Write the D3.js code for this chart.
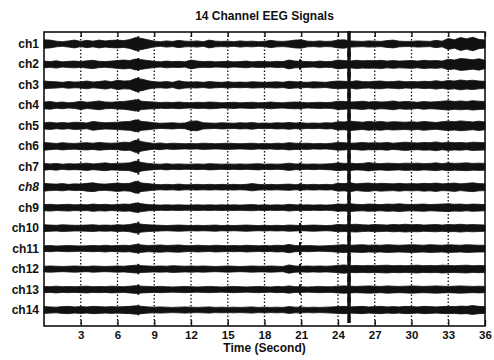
<!DOCTYPE html>
<html>
<head>
<meta charset="utf-8">
<script src="https://cdnjs.cloudflare.com/ajax/libs/d3/7.8.5/d3.min.js"></script>
<style>
  body { margin: 0; background: #fff; }
  text { font-family: "Liberation Sans", Arial, sans-serif; fill: #111; font-weight: bold; }
</style>
</head>
<body>
<div id="chart"></div>
<script>
// channel names and x tick labels
const channels = ["ch1","ch2","ch3","ch4","ch5","ch6","ch7","ch8","ch9","ch10","ch11","ch12","ch13","ch14"];
const xTicks = [3,6,9,12,15,18,21,24,27,30,33,36];

// signal envelope (half amplitude) every 0.5 s, 0..36 s
const step = 0.5;
const ch1  = [3.2,3.0,2.2,1.8,2.4,3.0, 2.0,2.8,2.2,3.0,2.4,2.8, 3.0,2.6,3.4,5.0,4.2,3.2, 2.2,1.8,2.4,2.0,2.8,2.2, 2.0,2.4,1.8,3.0,2.2,2.0, 2.2,1.8,2.4,2.0,2.2,1.8, 2.0,2.8,2.2,2.0,2.4,3.0, 3.2,2.2,2.0,2.4,2.0,2.2, 3.0,3.2,2.4,2.2,2.0,2.4, 2.2,2.0,2.6,3.0,2.2,2.0, 2.0,2.4,2.2,2.0,2.8,2.2, 4.2,3.2,5.0,4.0,5.2,3.6, 3.0];
const ch2  = [2.6,2.2,2.8,2.0,2.4,2.6, 2.2,2.8,3.2,2.4,2.2,2.6, 3.0,3.4,3.0,4.2,3.6,3.0, 2.4,2.0,2.6,2.2,2.4,2.0, 3.4,2.6,2.2,2.4,2.0,2.2, 2.4,2.0,2.2,2.6,2.0,2.4, 2.2,2.0,2.4,2.2,3.4,2.6, 2.4,2.2,2.0,2.6,2.2,2.4, 3.4,3.0,2.6,3.2,2.8,3.0, 2.8,3.2,2.6,3.0,2.6,2.8, 3.0,2.6,3.2,2.8,3.0,2.6, 4.0,3.4,4.6,4.2,3.6,4.4, 3.2];
const ch3  = [3.0,2.6,2.4,2.0,2.6,2.2, 2.4,3.0,2.2,2.6,3.2,2.4, 3.6,3.0,3.2,5.0,4.4,3.2, 2.4,2.2,2.6,2.0,3.2,2.4, 2.2,2.4,2.0,2.6,2.2,2.0, 2.4,2.0,2.2,2.0,2.4,2.2, 2.0,2.2,2.4,2.0,2.8,2.4, 2.2,2.0,2.4,2.2,2.0,2.6, 3.0,2.8,2.4,3.2,2.6,2.4, 2.8,3.0,2.4,2.6,3.0,2.4, 2.6,2.4,2.8,2.6,3.2,2.6, 3.4,3.0,3.8,3.2,3.6,3.0, 2.8];
const ch4  = [2.6,3.0,2.2,2.6,2.0,2.4, 3.2,2.4,2.8,3.4,2.6,2.4, 2.8,3.0,3.6,4.4,3.2,2.8, 2.6,2.2,2.4,2.2,2.6,2.2, 2.0,2.4,2.2,2.6,2.4,2.0, 2.2,2.4,2.0,2.2,2.4,2.0, 2.2,2.6,2.2,2.0,2.4,2.6, 2.4,2.0,2.2,2.4,2.2,2.4, 3.2,3.0,2.6,2.8,3.2,2.6, 3.0,2.6,2.8,3.4,2.6,3.0, 2.8,2.4,3.0,2.6,2.8,3.2, 3.6,3.0,3.4,3.0,3.6,3.2, 3.0];
const ch5  = [2.4,2.8,2.2,2.6,2.2,2.8, 2.6,2.2,3.4,2.8,2.4,2.6, 2.8,3.2,3.4,4.6,3.4,3.0, 2.4,2.0,2.2,2.4,2.0,2.2, 3.6,3.8,2.4,2.2,2.0,2.4, 2.2,2.0,2.4,2.2,2.6,2.0, 2.2,2.0,2.4,2.2,2.6,2.2, 2.4,2.0,2.2,2.0,2.4,2.2, 3.2,3.0,3.6,3.2,2.8,3.4, 3.0,3.4,2.8,3.2,3.0,2.8, 3.2,2.8,3.4,3.0,2.6,3.2, 3.6,3.2,3.8,3.4,3.0,3.6, 3.0];
const ch6  = [3.0,2.6,2.2,2.8,2.4,2.2, 2.6,2.8,2.4,3.0,2.6,2.4, 2.6,3.2,3.0,4.8,3.6,2.8, 2.2,2.6,2.0,2.4,2.2,2.0, 2.2,2.0,2.4,2.2,2.0,2.2, 2.4,2.2,2.0,2.2,2.4,2.0, 2.2,2.0,2.4,2.2,2.8,2.4, 2.2,2.4,2.0,2.2,2.0,2.4, 3.0,2.8,2.4,2.6,3.0,2.6, 2.8,2.6,3.0,2.4,2.8,3.2, 2.8,2.6,3.0,2.8,3.4,2.6, 3.2,2.8,3.0,2.6,3.2,3.0, 2.8];
const ch7  = [2.6,2.2,2.6,2.0,2.4,2.2, 2.4,2.8,2.2,2.6,3.0,2.4, 2.6,2.8,3.0,4.4,3.2,2.6, 2.2,2.0,2.4,2.0,2.2,2.0, 2.0,2.2,2.0,2.4,2.2,2.0, 2.2,2.0,2.2,2.0,2.2,2.4, 2.0,2.2,2.0,2.2,2.8,2.2, 2.2,2.0,2.2,2.0,2.2,2.4, 3.0,2.6,2.8,2.4,2.6,3.2, 2.6,2.4,2.8,2.6,2.4,2.8, 2.6,2.8,2.4,2.6,3.0,2.4, 3.0,2.6,2.8,3.0,2.6,2.8, 2.6];
const ch8  = [3.0,2.6,2.4,2.8,2.2,2.6, 2.4,3.0,3.4,2.6,2.4,2.8, 3.2,2.8,3.0,4.6,3.2,2.8, 2.2,2.0,2.2,2.0,2.4,2.0, 2.0,2.2,2.0,2.2,2.0,2.2, 2.0,2.2,2.0,2.2,2.8,2.2, 2.0,2.2,2.0,2.2,2.4,2.0, 2.2,2.0,2.2,2.0,2.2,2.0, 3.0,2.8,3.4,2.6,3.0,3.2, 2.6,3.0,2.8,2.6,3.0,2.6, 2.8,2.6,3.0,2.8,3.2,2.6, 2.8,3.2,2.6,3.0,3.4,2.8, 2.6];
const ch9  = [2.4,2.6,2.2,2.4,2.6,2.2, 2.4,2.2,2.8,2.4,2.6,2.2, 2.4,2.8,2.6,3.6,3.0,2.4, 2.2,2.0,2.2,2.0,2.2,2.0, 2.0,2.2,2.0,2.2,2.0,2.2, 2.0,2.2,2.0,2.2,2.4,2.0, 2.2,2.0,2.2,2.0,2.6,2.2, 2.0,2.2,2.0,2.2,2.0,2.2, 2.8,2.6,3.0,2.6,2.4,2.8, 2.6,2.4,2.8,2.6,3.0,2.6, 2.4,2.6,2.8,2.4,2.6,2.8, 3.0,2.6,2.8,2.4,2.8,2.6, 2.4];
const ch10 = [2.6,2.4,2.2,2.6,2.4,2.2, 2.2,2.4,2.6,2.2,2.4,2.2, 2.6,2.4,2.8,3.8,3.0,2.6, 2.4,2.2,2.0,2.2,2.4,2.2, 2.0,2.2,2.0,2.2,2.4,2.0, 2.2,2.0,2.2,2.4,2.2,2.0, 2.2,2.0,2.2,2.0,2.4,2.2, 2.0,2.2,2.4,2.2,2.0,2.2, 2.8,2.6,2.8,3.0,2.6,2.4, 2.8,2.6,2.4,2.8,2.6,3.0, 2.6,2.8,2.4,2.6,2.8,2.4, 2.8,2.6,3.0,2.6,2.8,2.6, 2.4];
const ch11 = [2.2,2.4,2.0,2.2,2.4,2.2, 2.0,2.2,2.4,2.2,2.6,2.2, 2.4,2.6,2.4,3.2,2.8,2.4, 2.6,2.8,2.4,2.6,2.8,2.4, 2.2,2.6,2.4,2.2,2.6,2.4, 2.2,2.4,2.2,2.6,2.4,2.2, 2.4,2.2,2.6,2.4,3.2,2.4, 2.2,2.4,2.2,2.0,2.2,2.4, 2.8,3.0,2.6,2.8,3.0,2.6, 2.8,2.6,3.0,2.8,2.6,2.8, 3.0,2.8,2.6,3.0,2.8,2.6, 3.0,2.8,2.6,3.0,2.8,2.6, 2.6];
const ch12 = [2.2,2.4,2.2,2.0,2.2,2.4, 2.2,2.0,2.4,2.2,2.0,2.2, 2.4,2.2,2.6,3.0,2.6,2.4, 2.2,2.4,2.2,2.6,2.4,2.2, 2.4,2.2,2.4,2.2,2.0,2.2, 2.4,2.2,2.0,2.2,2.4,2.2, 2.2,2.4,2.2,2.0,3.2,2.4, 2.2,2.4,2.2,2.4,2.2,2.4, 2.8,3.2,2.6,2.8,2.6,2.8, 2.6,2.8,3.0,2.6,2.8,2.6, 2.8,3.0,2.6,2.8,2.6,3.0, 2.8,2.6,2.8,3.0,2.6,2.8, 2.6];
const ch13 = [2.4,2.2,2.6,2.2,2.4,2.2, 2.4,2.6,2.2,2.4,2.2,2.6, 2.4,2.2,2.6,3.0,2.6,2.4, 2.2,2.4,2.2,2.0,2.2,2.4, 2.2,2.0,2.2,2.4,2.2,2.0, 2.2,2.4,2.2,2.0,2.2,2.4, 2.2,2.0,2.4,2.2,2.8,2.2, 2.2,2.0,2.2,2.4,2.2,2.2, 2.6,2.8,2.6,2.4,2.6,2.8, 2.6,2.4,2.8,2.6,2.4,2.6, 2.8,2.6,2.4,2.6,2.8,2.6, 2.4,2.6,2.8,2.6,2.4,2.6, 2.4];
const ch14 = [2.6,2.4,2.2,2.6,2.8,2.4, 2.6,2.4,2.8,2.6,2.4,2.6, 2.4,2.6,2.8,3.2,2.8,2.4, 2.2,2.4,2.2,2.0,2.2,2.4, 2.2,2.0,2.2,2.4,2.0,2.2, 2.0,2.2,2.0,2.2,2.4,2.0, 2.2,2.0,2.2,2.0,2.6,2.2, 2.2,2.0,2.2,2.0,2.2,2.4, 2.6,2.8,2.4,2.6,2.8,2.4, 2.6,2.8,2.4,2.6,2.4,2.8, 2.6,2.4,2.8,2.6,2.4,2.6, 2.8,2.6,3.0,2.8,3.4,2.8, 2.6];
const envelopes = [ch1,ch2,ch3,ch4,ch5,ch6,ch7,ch8,ch9,ch10,ch11,ch12,ch13,ch14];

// short spikes: time (s) and half amplitude per channel
const spikeTimes = [7.7, 20.9, 24.9];
const spikeAmps = [
  [6,5,6,5,5,6,6,5,4,5,4,4,4,4],
  [3,4,3,3,3,3,3,3,3,4,5,4,4,3],
  [10,10,10,10,10,10,10,10,10,10,10,10,10,10]
];

const width = 494, height = 360;
const margin = {top: 32, right: 9, bottom: 34, left: 44};

const svg = d3.select("#chart").append("svg")
  .attr("width", width)
  .attr("height", height);

const x = d3.scaleLinear().domain([0, 36]).range([margin.left, width - margin.right]);
const y = d3.scalePoint().domain(channels).range([44, 310]);
const amp = d3.scaleLinear().domain([0, 10]).range([0, 13]);

// dotted grid lines
svg.append("g").selectAll("line")
  .data(xTicks.filter(d => d < 36))
  .join("line")
  .attr("x1", d => x(d)).attr("x2", d => x(d))
  .attr("y1", margin.top).attr("y2", height - margin.bottom)
  .attr("stroke", "#111")
  .attr("stroke-width", 1.3)
  .attr("stroke-dasharray", "1.5,2");

// traces
const traces = svg.append("g");
channels.forEach((ch, k) => {
  const yc = y(ch);
  const area = d3.area()
    .x((d, i) => x(i * step))
    .y0(d => yc - amp(d))
    .y1(d => yc + amp(d));
  traces.append("path")
    .datum(envelopes[k])
    .attr("d", area)
    .attr("fill", "#111")
    .attr("stroke", "#111")
    .attr("stroke-width", 0.8);

  spikeTimes.forEach((t, s) => {
    traces.append("line")
      .attr("x1", x(t)).attr("x2", x(t))
      .attr("y1", yc - amp(spikeAmps[s][k]))
      .attr("y2", yc + amp(spikeAmps[s][k]))
      .attr("stroke", "#111")
      .attr("stroke-width", s == 2 ? 3.5 : 2);
  });
});

// axes with inward ticks
svg.append("g")
  .attr("transform", `translate(0,${height - margin.bottom})`)
  .call(d3.axisBottom(x).tickValues(xTicks).tickSize(-6).tickPadding(5))
  .call(g => g.select(".domain").remove())
  .call(g => g.selectAll("line").attr("stroke", "#111").attr("stroke-width", 1.3))
  .call(g => g.selectAll("text").attr("font-size", 11.5).attr("fill", "#111"));

svg.append("g")
  .attr("transform", `translate(0,${margin.top})`)
  .call(d3.axisTop(x).tickValues(xTicks).tickSize(-5).tickFormat(""))
  .call(g => g.select(".domain").remove())
  .call(g => g.selectAll("line").attr("stroke", "#111").attr("stroke-width", 1.3));

// frame
svg.append("rect")
  .attr("x", margin.left).attr("y", margin.top)
  .attr("width", width - margin.left - margin.right)
  .attr("height", height - margin.top - margin.bottom)
  .attr("fill", "none")
  .attr("stroke", "#111")
  .attr("stroke-width", 1.6);

// channel labels
svg.append("g").selectAll("text")
  .data(channels)
  .join("text")
  .attr("x", 39)
  .attr("y", d => y(d) + 4)
  .attr("text-anchor", "end")
  .attr("font-size", 12)
  .attr("font-style", d => d == "ch8" ? "italic" : "normal")
  .text(d => d);

svg.append("text")
  .attr("x", (margin.left + width - margin.right) / 2)
  .attr("y", 20)
  .attr("text-anchor", "middle")
  .attr("font-size", 12)
  .text("14 Channel EEG Signals");

svg.append("text")
  .attr("x", (margin.left + width - margin.right) / 2)
  .attr("y", 352)
  .attr("text-anchor", "middle")
  .attr("font-size", 12)
  .text("Time (Second)");
</script>
</body>
</html>
